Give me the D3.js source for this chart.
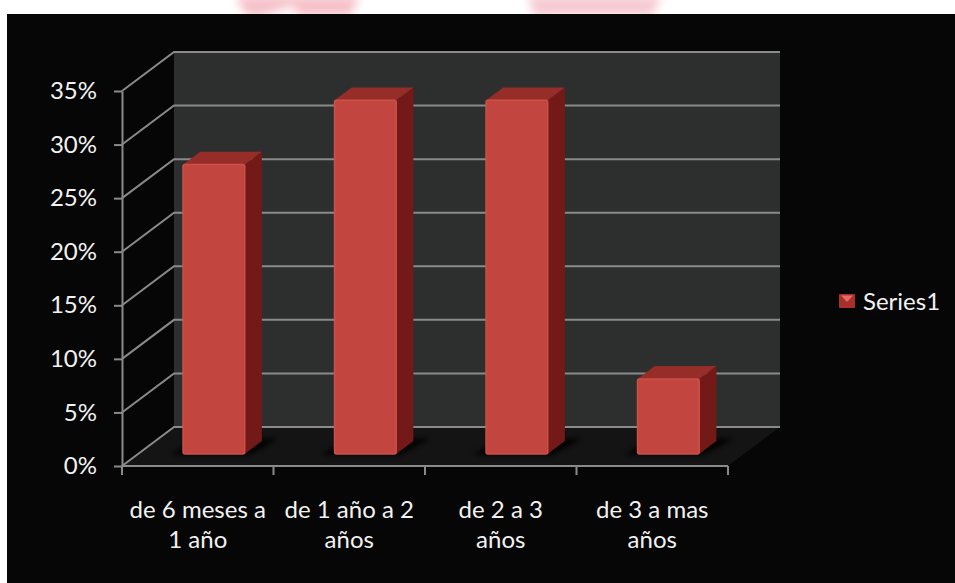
<!DOCTYPE html>
<html>
<head>
<meta charset="utf-8">
<script src="https://cdn.jsdelivr.net/npm/d3@7"></script>
<style>
  html, body { margin: 0; padding: 0; background: #ffffff; }
  svg { display: block; }
  text { font-family: Lato, "Open Sans", sans-serif; }
</style>
</head>
<body>
<svg id="chart" width="955" height="583"></svg>
<script>
// ---- data ----
const categories = [
  ["de 6 meses a", "1 año"],
  ["de 1 año a 2", "años"],
  ["de 2 a 3", "años"],
  ["de 3 a mas", "años"]
];
const values = [0.27, 0.33, 0.33, 0.07];
const yTicks = [0, 0.05, 0.10, 0.15, 0.20, 0.25, 0.30, 0.35];
const seriesName = "Series1";

// ---- layout ----
const W = 955, H = 583;
const frontX0 = 122, frontX1 = 728;
const DX = 52, DY = -39;          // full depth vector
const barD0 = 0.31, barD1 = 0.64; // bar depth range
const barFrac = 0.407;

const svg = d3.select("#chart");
const defs = svg.append("defs");
defs.append("filter").attr("id", "blur").attr("x", "-20%").attr("y", "-50%").attr("width", "140%").attr("height", "200%")
  .append("feGaussianBlur").attr("stdDeviation", 5);
defs.append("filter").attr("id", "sblur").attr("x", "-20%").attr("y", "-50%").attr("width", "140%").attr("height", "200%")
  .append("feGaussianBlur").attr("stdDeviation", 2.5);

// white page + faint pink remnants at top
svg.append("rect").attr("width", W).attr("height", H).attr("fill", "#ffffff");
const pink = svg.append("g").attr("filter", "url(#blur)").attr("opacity", 0.55);
pink.append("path").attr("d", "M236,-4 L360,-4 L350,16 L300,16 L292,6 L262,16 L246,16 Z").attr("fill", "#ef8f9f");
pink.append("path").attr("d", "M528,-4 L662,-4 L652,16 L534,16 Z").attr("fill", "#ef9fad");
svg.append("rect").attr("x", 7).attr("y", 14).attr("width", W - 7).attr("height", H - 14).attr("fill", "#060606");

const x = d3.scaleBand().domain(d3.range(categories.length)).range([frontX0, frontX1]).padding(0);
const y = d3.scaleLinear().domain([0, 0.35]).range([466, 91]);
const proj = (xx, v, d) => [xx + d * DX, y(v) + d * DY];
const pts = arr => arr.map(p => p.join(",")).join(" ");

const ymax = yTicks[yTicks.length - 1];

// back wall
svg.append("polygon")
  .attr("points", pts([proj(frontX0, 0, 1), proj(frontX1, 0, 1), proj(frontX1, ymax, 1), proj(frontX0, ymax, 1)]))
  .attr("fill", "#2d2f2e");

// floor
svg.append("polygon")
  .attr("points", pts([proj(frontX0, 0, 0), proj(frontX1, 0, 0), proj(frontX1, 0, 1), proj(frontX0, 0, 1)]))
  .attr("fill", "#141414");

// gridlines on back wall and left wall
const grid = svg.append("g").attr("stroke", "#8a8a8a").attr("stroke-width", 2).attr("fill", "none");
yTicks.forEach(t => {
  const a = proj(frontX0, t, 0), b = proj(frontX0, t, 1), c = proj(frontX1, t, 1);
  grid.append("polyline").attr("points", pts([a, b, c]));
});

// bars
const bw = x.bandwidth() * barFrac;
const bars = svg.append("g");
values.forEach((v, i) => {
  const xl = x(i) + (x.bandwidth() - bw) / 2, xr = xl + bw;
  // shadow
  bars.append("polygon")
    .attr("points", pts([
      [proj(xl, 0, barD0)[0] - 13, proj(xl, 0, barD0)[1] + 1],
      [proj(xr, 0, barD0)[0] + 4, proj(xr, 0, barD0)[1] + 1],
      [proj(xr, 0, barD1 + 0.06)[0] + 14, proj(xr, 0, barD1 + 0.06)[1]],
      [proj(xl, 0, barD1 + 0.06)[0] - 6, proj(xl, 0, barD1 + 0.06)[1]]
    ]))
    .attr("fill", "#000").attr("opacity", 0.9).attr("filter", "url(#sblur)");
  // side
  bars.append("polygon")
    .attr("points", pts([proj(xr, 0, barD0), proj(xr, 0, barD1), proj(xr, v, barD1), proj(xr, v, barD0)]))
    .attr("fill", "#731a18");
  // top
  bars.append("polygon")
    .attr("points", pts([proj(xl, v, barD0), proj(xr, v, barD0), proj(xr, v, barD1), proj(xl, v, barD1)]))
    .attr("fill", "#962d28");
  // front
  const f0 = proj(xl, v, barD0), f1 = proj(xr, 0, barD0);
  bars.append("rect")
    .attr("x", f0[0]).attr("y", f0[1]).attr("width", f1[0] - f0[0]).attr("height", f1[1] - f0[1])
    .attr("rx", 2)
    .attr("fill", "#c2463f").attr("stroke", "#cc5149").attr("stroke-width", 1.5);
});

// y axis
const yAxis = d3.axisLeft(y).tickValues(yTicks).tickFormat(d3.format(".0%")).tickSize(8).tickSizeOuter(0).tickPadding(17);
const yg = svg.append("g").attr("transform", `translate(${frontX0},0)`).call(yAxis);
yg.select(".domain").attr("stroke", "#8a8a8a").attr("stroke-width", 2);
yg.selectAll(".tick line").attr("stroke", "#8a8a8a").attr("stroke-width", 2);
yg.selectAll(".tick text").attr("fill", "#f2f2f2").attr("font-size", 24).attr("font-family", "Lato, sans-serif");

// x axis
const xg = svg.append("g");
xg.append("line").attr("x1", frontX0).attr("x2", frontX1).attr("y1", y(0)).attr("y2", y(0))
  .attr("stroke", "#8a8a8a").attr("stroke-width", 2);
const bounds = x.domain().map(i => x(i)).concat([frontX1]);
xg.selectAll("line.tk").data(bounds).join("line").attr("class", "tk")
  .attr("x1", d => d).attr("x2", d => d).attr("y1", y(0)).attr("y2", y(0) + 9)
  .attr("stroke", "#8a8a8a").attr("stroke-width", 2);
const lbl = xg.selectAll("text.cat").data(categories).join("text").attr("class", "cat")
  .attr("x", (d, i) => x(i) + x.bandwidth() / 2)
  .attr("y", 518)
  .attr("text-anchor", "middle").attr("fill", "#f2f2f2").attr("font-size", 24);
lbl.selectAll("tspan").data(d => d).join("tspan")
  .attr("x", function () { return this.parentNode.getAttribute("x"); })
  .attr("dy", (d, j) => j === 0 ? 0 : 30)
  .text(d => d);

// legend
const lg = svg.append("g");
lg.append("rect").attr("x", 839).attr("y", 294).attr("width", 16).attr("height", 14).attr("fill", "#a8302c").attr("rx", 1);
lg.append("polygon").attr("points", "841,295.5 853,295.5 847,302").attr("fill", "#e46a62");
lg.append("text").attr("x", 863).attr("y", 302).attr("dy", "0.35em").attr("fill", "#f2f2f2").attr("font-size", 24).text(seriesName);
</script>
</body>
</html>
